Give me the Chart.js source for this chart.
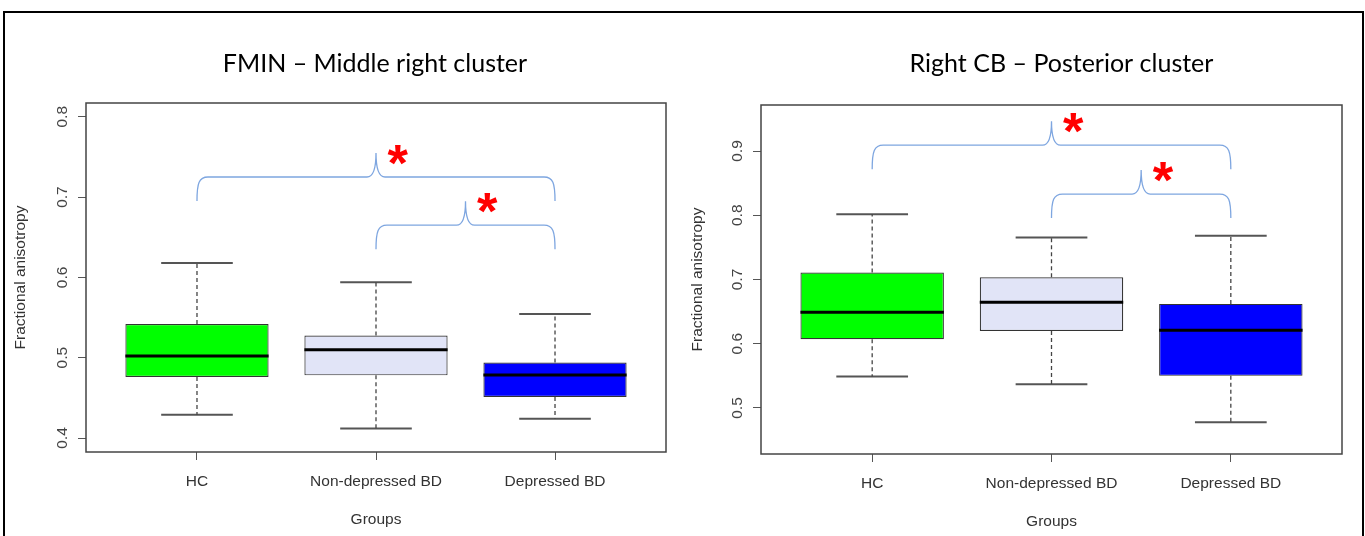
<!DOCTYPE html>
<html>
<head>
<meta charset="utf-8">
<script src="https://cdn.jsdelivr.net/npm/chart.js@4.4.1/dist/chart.umd.min.js"></script>
<style>
  html, body { margin: 0; padding: 0; background: #fff; }
  body { width: 1365px; height: 536px; position: relative; overflow: hidden; }
  .panel { position: absolute; top: 0; height: 536px; }
  #frame { position: absolute; left: 3px; top: 11px; width: 1357px; height: 560px; border: 2px solid #000; pointer-events: none; }
</style>
</head>
<body>
<div class="panel" style="left:0;width:682px"><canvas id="fmin"></canvas></div>
<div class="panel" style="left:682px;width:683px"><canvas id="cb"></canvas></div>
<div id="frame"></div>
<script>
const groups = ["HC", "Non-depressed BD", "Depressed BD"];
const groupColors = ["#00ff00", "#e1e4f7", "#0000ff"];

// FMIN – Middle right cluster
const fminLow = [0.429, 0.412, 0.424];
const fminQ1 = [0.476, 0.478, 0.451];
const fminMedian = [0.502, 0.510, 0.4785];
const fminQ3 = [0.542, 0.5275, 0.494];
const fminHigh = [0.618, 0.594, 0.5545];
const fminTicks = [0.4, 0.5, 0.6, 0.7, 0.8];
const fminBraceFrom = [1, 2];
const fminBraceTo = [3, 3];
const fminBraceLevel = [0.725, 0.665];

// Right CB – Posterior cluster
const cbLow = [0.549, 0.537, 0.478];
const cbQ1 = [0.607, 0.620, 0.550];
const cbMedian = [0.649, 0.6645, 0.621];
const cbQ3 = [0.711, 0.7035, 0.662];
const cbHigh = [0.8015, 0.7655, 0.768];
const cbTicks = [0.5, 0.6, 0.7, 0.8, 0.9];
const cbBraceFrom = [1, 2];
const cbBraceTo = [3, 3];
const cbBraceLevel = [0.909, 0.833];

const axisFont = "'Liberation Sans', Arial, sans-serif";

function boxDatasets(low, q1, med, q3, high) {
  const pos = groups.map((g, i) => i + 1);
  const whiskers = [], caps = [], medians = [];
  pos.forEach((x, i) => {
    whiskers.push({x, y: q3[i]}, {x, y: high[i]}, {x, y: null}, {x, y: q1[i]}, {x, y: low[i]}, {x, y: null});
    caps.push({x: x - 0.2, y: high[i]}, {x: x + 0.2, y: high[i]}, {x, y: null},
              {x: x - 0.2, y: low[i]}, {x: x + 0.2, y: low[i]}, {x, y: null});
    medians.push({x: x - 0.4, y: med[i]}, {x: x + 0.4, y: med[i]}, {x, y: null});
  });
  return [
    { type: "bar", data: pos.map((x, i) => ({x, y: [q1[i], q3[i]]})), backgroundColor: groupColors,
      borderColor: "#333", borderWidth: 1.2, borderSkipped: false, barPercentage: 0.8, categoryPercentage: 1, order: 3 },
    { type: "line", data: whiskers, borderColor: "#444", borderWidth: 1.3, borderDash: [4, 3], pointRadius: 0, spanGaps: false, order: 2 },
    { type: "line", data: caps, borderColor: "#555", borderWidth: 2, pointRadius: 0, spanGaps: false, order: 2 },
    { type: "line", data: medians, borderColor: "#000", borderWidth: 3, pointRadius: 0, spanGaps: false, order: 1 }
  ];
}

function drawBrace(ctx, x1, x2, xm, yl) {
  const h = 24, r = 11, p = 9;
  ctx.beginPath();
  ctx.moveTo(x1, yl + h);
  ctx.bezierCurveTo(x1, yl + 6, x1 + 2, yl, x1 + r, yl);
  ctx.lineTo(xm - p, yl);
  ctx.bezierCurveTo(xm - 2, yl, xm, yl - 10, xm, yl - h);
  ctx.bezierCurveTo(xm, yl - 10, xm + 2, yl, xm + p, yl);
  ctx.lineTo(x2 - r, yl);
  ctx.bezierCurveTo(x2 - 2, yl, x2, yl + 6, x2, yl + h);
  ctx.strokeStyle = "#7ea6e0";
  ctx.lineWidth = 1.3;
  ctx.stroke();
}

function drawStar(ctx, cx, cy) {
  const fam = "'Liberation Sans', Arial, sans-serif";
  ctx.textAlign = "left";
  ctx.textBaseline = "alphabetic";
  ctx.font = "bold 40px " + fam;
  let m = ctx.measureText("*");
  const size = 40 * 21 / (m.actualBoundingBoxLeft + m.actualBoundingBoxRight);
  ctx.font = "bold " + size + "px " + fam;
  m = ctx.measureText("*");
  ctx.fillStyle = "#ff0000";
  ctx.fillText("*", cx - (m.actualBoundingBoxRight - m.actualBoundingBoxLeft) / 2,
               cy + (m.actualBoundingBoxAscent - m.actualBoundingBoxDescent) / 2);
}

const annotate = {
  id: "annotate",
  beforeDatasetsDraw(chart) {
    const {ctx, chartArea: a} = chart;
    ctx.save();
    ctx.strokeStyle = "#444";
    ctx.lineWidth = 1.5;
    ctx.strokeRect(a.left, a.top, a.right - a.left, a.bottom - a.top);
    ctx.restore();
  },
  afterDatasetsDraw(chart, args, opts) {
    const {ctx, chartArea: a, scales: {x, y}} = chart;
    ctx.save();
    ctx.font = "25px Lato";
    ctx.fillStyle = "#000";
    ctx.textAlign = "center";
    ctx.textBaseline = "middle";
    ctx.fillText(opts.title, (a.left + a.right) / 2 + opts.titleShift, opts.titleY);
    opts.from.forEach((f, i) => {
      const t = opts.to[i];
      const x1 = x.getPixelForValue(f), x2 = x.getPixelForValue(t), xm = x.getPixelForValue((f + t) / 2);
      const yl = y.getPixelForValue(opts.level[i]);
      drawBrace(ctx, x1, x2, xm, yl);
      drawStar(ctx, xm + 22, yl - 22);
    });
    ctx.restore();
  }
};

function makeChart(id, cfg) {
  return new Chart(document.getElementById(id), {
    type: "bar",
    data: { datasets: boxDatasets(cfg.low, cfg.q1, cfg.med, cfg.q3, cfg.high) },
    plugins: [annotate],
    options: {
      responsive: true,
      maintainAspectRatio: false,
      animation: false,
      devicePixelRatio: 1,
      layout: { padding: cfg.padding },
      plugins: {
        legend: { display: false },
        tooltip: { enabled: false },
        annotate: { title: cfg.title, titleShift: cfg.titleShift, titleY: 64, from: cfg.braceFrom, to: cfg.braceTo, level: cfg.braceLevel }
      },
      scales: {
        x: {
          type: "linear", min: 0.38, max: 3.62, offset: false,
          afterBuildTicks: s => { s.ticks = groups.map((g, i) => ({value: i + 1})); },
          afterFit: s => { s.height = cfg.xHeight; },
          ticks: { callback: v => groups[v - 1], color: "#333", font: {family: axisFont, size: 15.5}, padding: 12, autoSkip: false, maxRotation: 0 },
          grid: { drawOnChartArea: false, tickLength: 8, color: "#555", offset: false },
          border: { display: false },
          title: { display: true, text: "Groups", color: "#333", font: {family: axisFont, size: 15.5}, padding: {top: 0, bottom: 3} }
        },
        y: {
          min: cfg.yMin, max: cfg.yMax,
          afterBuildTicks: s => { s.ticks = cfg.ticks.map(v => ({value: v})); },
          afterFit: s => { s.width = cfg.yWidth; },
          ticks: { callback: v => v.toFixed(1), color: "#444", font: {family: axisFont, size: 15.5}, minRotation: 90, maxRotation: 90, crossAlign: "center", padding: 5 },
          grid: { drawOnChartArea: false, tickLength: 8, color: "#555" },
          border: { display: false },
          title: { display: true, text: "Fractional anisotropy", color: "#333", font: {family: axisFont, size: 15.5}, padding: {top: 3, bottom: 0} }
        }
      }
    }
  });
}

makeChart("fmin", {
  low: fminLow, q1: fminQ1, med: fminMedian, q3: fminQ3, high: fminHigh, ticks: fminTicks,
  braceFrom: fminBraceFrom, braceTo: fminBraceTo, braceLevel: fminBraceLevel,
  title: "FMIN \u2013 Middle right cluster", titleShift: -1,
  yMin: 0.3826, yMax: 0.8171, padding: {left: 8, right: 16, top: 103, bottom: 4}, yWidth: 78, xHeight: 80
});

makeChart("cb", {
  low: cbLow, q1: cbQ1, med: cbMedian, q3: cbQ3, high: cbHigh, ticks: cbTicks,
  braceFrom: cbBraceFrom, braceTo: cbBraceTo, braceLevel: cbBraceLevel,
  title: "Right CB \u2013 Posterior cluster", titleShift: 10,
  yMin: 0.4284, yMax: 0.9716, padding: {left: 3, right: 23, top: 105, bottom: 2}, yWidth: 76, xHeight: 80
});
</script>
</body>
</html>
